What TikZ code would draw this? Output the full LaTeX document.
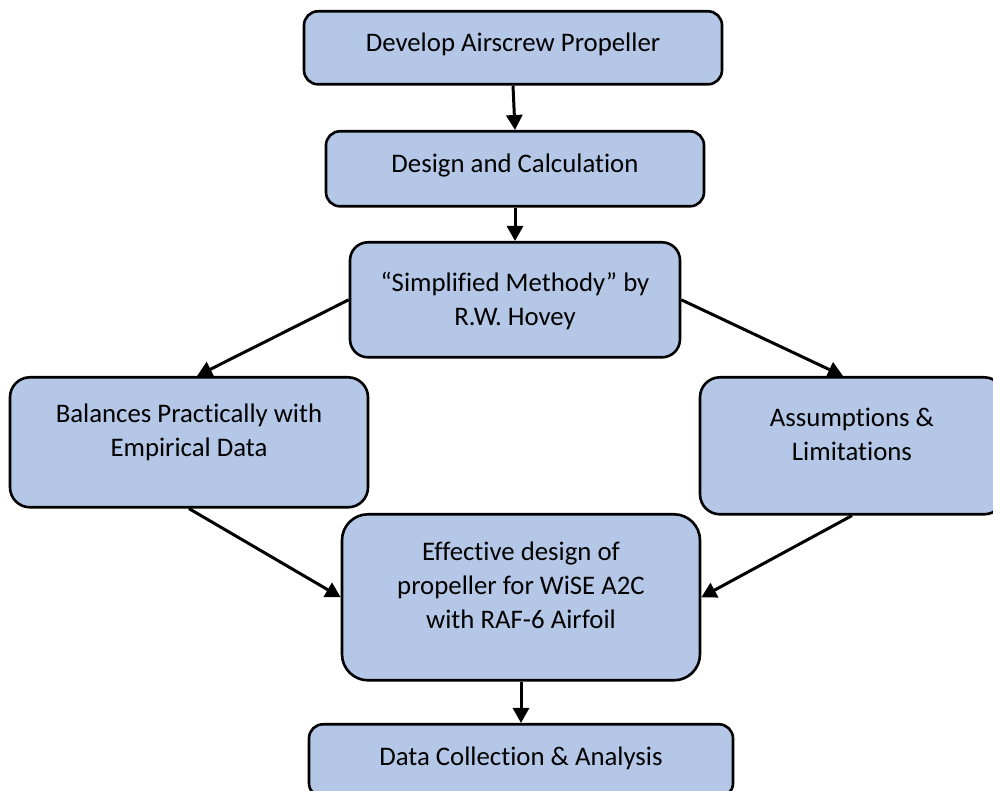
\documentclass[tikz,border=0pt]{standalone}
\usepackage{fontspec}
\setmainfont{Carlito}[Ligatures=NoCommon]
\usepackage{tikz}
\usetikzlibrary{arrows.meta,positioning}

\definecolor{boxblue}{RGB}{180,199,231}

\tikzset{
  box/.style={draw, line width=1.3pt, fill=boxblue, rounded corners=7pt,
    align=center, anchor=north, inner ysep=0pt,
    font=\fontsize{13.4}{17}\selectfont},
  flow/.style={line width=1.5pt, -{Triangle[length=7.5pt,width=8pt]}}
}

\begin{document}
\begin{tikzpicture}[x=0.5pt,y=-0.5pt]
\useasboundingbox (0,0) rectangle (993,791);
\clip (0,0) rectangle (993,791);

% main column
\node[box, minimum width=209pt, text height=20pt, text depth=16.5pt] (develop) at (513,10) {Develop Airscrew Propeller};
\node[box, minimum width=189pt, text height=20.5pt, text depth=17pt] (design) at (515,130) {Design and Calculation};
\node[box, minimum width=165pt, text height=41.5pt, text depth=16pt, rounded corners=9pt] (hovey) at (515,241) {``Simplified Methody'' by\\R.W. Hovey};

% side boxes
\node[box, minimum width=179pt, text height=39.5pt, text depth=25.5pt, rounded corners=10pt] (empirical) at (189,376) {Balances Practically with\\Empirical Data};
\node[box, minimum width=152pt, text height=41.5pt, text depth=27pt, rounded corners=10pt] (assume) at (852,376) {Assumptions \&\\Limitations};

% result
\node[box, minimum width=179pt, text height=57pt, text depth=26pt, rounded corners=13pt] (effective) at (521,513) {Effective design of\\propeller for WiSE A2C\\with RAF-6 Airfoil};
\node[box, minimum width=212pt, text height=20.5pt, text depth=16pt] (collect) at (521,723) {Data Collection \& Analysis};

\draw[flow] (develop.south) -- (design.north);
\draw[flow] (design.south) -- (hovey.north);
\draw[flow] (hovey.west) -- ([xshift=4pt]empirical.north);
\draw[flow] (hovey.east) -- ([xshift=-4.5pt]assume.north);
\draw[flow] (empirical.south) -- (effective.west);
\draw[flow] (assume.south) -- (effective.east);
\draw[flow] (effective.south) -- (collect.north);
\end{tikzpicture}
\end{document}
